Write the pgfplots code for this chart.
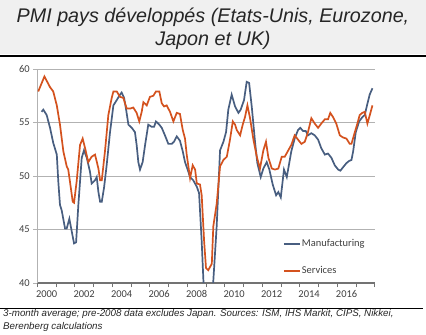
\documentclass[border=0pt]{standalone}
\usepackage{pgfplots}
\pgfplotsset{compat=1.18}
\usepackage{fontspec}
\setmainfont{Liberation Sans}
\newfontfamily\tickfont{Carlito}
\definecolor{mfg}{RGB}{72,94,128}
\definecolor{srv}{RGB}{212,82,30}
\definecolor{titlebg}{RGB}{240,240,240}
\definecolor{txt}{RGB}{64,64,64}
\begin{document}
\begin{tikzpicture}[x=1bp,y=1bp]
\useasboundingbox (0,0) rectangle (426,335);
\fill[white] (0,0) rectangle (426,335);
\fill[titlebg] (0,281) rectangle (426,335);
\node[font=\fontsize{19.8}{23}\selectfont\itshape, align=center, text=black!85] at (213,306.5) {PMI pays développés (Etats-Unis, Eurozone,\\Japon et UK)};
\draw[black, line width=2bp] (0,279.3) -- (426,279.3);
\begin{axis}[
  at={(37.3bp,52bp)}, anchor=south west,
  scale only axis, width=337.4bp, height=214bp,
  xmin=2000, xmax=2018, ymin=40, ymax=60,
  ytick={40,45,50,55,60},
  xtick={2000.5,2002.5,2004.5,2006.5,2008.5,2010.5,2012.5,2014.5,2016.5},
  xticklabels={2000,2002,2004,2006,2008,2010,2012,2014,2016},
  minor xtick={2000,2001,...,2018},
  /pgf/number format/assume math mode=true,
  axis x line*=bottom, axis y line*=left,
  x axis line style={draw=black!55, line width=1.4bp},
  y axis line style={draw=black!30, line width=0.8bp},
  ymajorgrids, grid style={draw=black!30, line width=0.8bp},
  tick align=outside,
  xtick style={draw=none},
  minor x tick style={draw=black!55, line width=0.8bp},
  minor tick length=4bp,
  ytick style={draw=black!30, line width=0.8bp},
  major tick length=4bp,
  tick label style={font=\tickfont\fontsize{10.5}{12}\selectfont, text=txt},
  legend style={at={(0.728,0.208)}, anchor=north west, draw=none, fill=none,
    font=\tickfont\fontsize{10.5}{12}\selectfont, text=txt, row sep=16bp, inner sep=0pt,
    nodes={inner sep=1bp}},
  legend cell align=left,
  legend image code/.code={\draw[#1] (0bp,0bp) -- (16bp,0bp);},
]
\addplot[mfg, line width=1.7bp] coordinates {
(2000.23,56.0)(2000.32,56.2)(2000.50,55.7)(2000.68,54.5)(2000.85,53.1)(2001.04,52.0)
(2001.12,49.5)(2001.21,47.3)(2001.30,46.8)(2001.48,45.1)(2001.57,45.1)(2001.71,46.0)
(2001.84,44.8)(2001.96,43.7)(2002.07,43.8)(2002.19,47.3)(2002.37,51.7)(2002.49,52.4)
(2002.64,51.7)(2002.81,50.4)(2002.90,49.3)(2003.08,49.6)(2003.17,49.9)(2003.26,48.5)
(2003.35,47.6)(2003.44,47.6)(2003.56,48.9)(2003.70,51.0)(2003.88,54.1)(2004.06,56.6)
(2004.24,57.1)(2004.41,57.6)(2004.50,57.8)(2004.63,57.3)(2004.73,56.3)(2004.86,54.8)
(2005.04,54.5)(2005.21,54.1)(2005.30,52.9)(2005.39,51.3)(2005.48,50.6)(2005.62,51.3)
(2005.75,52.9)(2005.92,54.8)(2006.10,54.6)(2006.23,54.6)(2006.33,55.1)(2006.51,54.8)
(2006.64,54.5)(2006.81,53.8)(2006.99,53.0)(2007.17,53.0)(2007.29,53.2)(2007.44,53.7)
(2007.61,53.3)(2007.76,52.3)(2007.88,51.3)(2008.00,50.7)(2008.15,49.9)(2008.32,49.6)
(2008.51,49.0)(2008.63,48.4)(2008.77,43.9)(2008.86,40.3)(2008.95,37.5)(2009.11,36.5)
(2009.27,37.5)(2009.39,40.2)(2009.57,45.3)(2009.75,52.4)(2009.93,53.2)(2010.07,54.1)
(2010.19,56.2)(2010.37,57.6)(2010.55,56.5)(2010.73,55.9)(2010.85,56.2)(2011.03,57.1)
(2011.17,58.8)(2011.30,58.7)(2011.44,56.5)(2011.62,53.1)(2011.74,51.2)(2011.92,49.9)
(2012.06,50.7)(2012.24,51.3)(2012.38,50.6)(2012.56,49.2)(2012.74,48.2)(2012.86,48.5)
(2012.99,48.0)(2013.16,50.6)(2013.31,49.9)(2013.55,52.3)(2013.73,53.5)(2013.91,54.3)
(2014.03,54.5)(2014.18,54.2)(2014.32,54.2)(2014.44,53.8)(2014.62,54.0)(2014.80,53.8)
(2014.98,53.4)(2015.15,52.6)(2015.34,52.0)(2015.51,52.1)(2015.69,51.7)(2015.87,51.0)
(2016.05,50.6)(2016.17,50.5)(2016.35,50.9)(2016.49,51.2)(2016.63,51.4)(2016.76,51.5)
(2016.85,52.3)(2016.99,54.1)(2017.17,55.1)(2017.34,55.5)(2017.47,55.7)(2017.59,56.6)
(2017.73,57.6)(2017.88,58.2)
};
\addlegendentry{Manufacturing}
\addplot[srv, line width=1.7bp] coordinates {
(2000.05,57.9)(2000.38,59.3)(2000.68,58.3)(2000.85,57.9)(2001.04,56.6)(2001.21,54.8)
(2001.39,52.3)(2001.57,50.9)(2001.65,50.6)(2001.74,49.5)(2001.89,47.6)(2001.96,47.5)
(2002.10,49.5)(2002.28,52.9)(2002.42,53.5)(2002.55,52.6)(2002.72,51.3)(2002.90,51.8)
(2003.08,52.0)(2003.26,50.7)(2003.35,49.6)(2003.44,49.6)(2003.61,52.3)(2003.79,55.7)
(2003.97,57.3)(2004.06,57.9)(2004.24,57.9)(2004.41,57.4)(2004.59,57.3)(2004.77,56.3)
(2004.95,56.3)(2005.12,56.4)(2005.30,55.9)(2005.44,55.1)(2005.57,56.0)(2005.66,56.9)
(2005.84,56.6)(2006.01,57.4)(2006.19,57.5)(2006.33,57.9)(2006.51,57.9)(2006.64,56.8)
(2006.76,56.5)(2006.90,56.6)(2007.08,56.0)(2007.26,55.1)(2007.44,55.9)(2007.61,55.8)
(2007.76,54.3)(2007.88,53.5)(2007.97,52.0)(2008.15,49.8)(2008.29,51.0)(2008.42,50.6)
(2008.51,49.3)(2008.68,49.2)(2008.77,48.2)(2008.90,43.9)(2009.00,41.4)(2009.12,41.2)
(2009.31,41.8)(2009.39,45.3)(2009.57,47.4)(2009.75,50.9)(2009.93,51.5)(2010.11,51.8)
(2010.28,53.4)(2010.43,55.1)(2010.55,54.8)(2010.64,54.3)(2010.82,53.8)(2010.96,54.8)
(2011.08,55.5)(2011.21,56.6)(2011.35,55.4)(2011.53,53.4)(2011.71,51.8)(2011.88,50.7)
(2012.06,52.4)(2012.20,53.2)(2012.33,51.7)(2012.51,50.7)(2012.68,50.6)(2012.86,50.7)
(2013.04,51.8)(2013.20,51.8)(2013.55,52.9)(2013.73,53.8)(2013.91,53.4)(2014.09,53.0)
(2014.27,53.2)(2014.44,54.1)(2014.62,55.4)(2014.80,54.9)(2014.98,54.5)(2015.15,54.9)
(2015.34,55.3)(2015.51,55.3)(2015.63,55.9)(2015.78,55.5)(2015.95,54.9)(2016.14,53.8)
(2016.31,53.6)(2016.49,53.5)(2016.67,53.0)(2016.76,53.0)(2016.94,54.1)(2017.06,54.8)
(2017.20,55.7)(2017.34,55.9)(2017.47,56.0)(2017.61,54.9)(2017.74,55.7)(2017.88,56.6)
};
\addlegendentry{Services}
\end{axis}
\draw[black, line width=1bp] (0,26) -- (423,26);
\node[anchor=west, align=left, font=\fontsize{9.8}{12.5}\selectfont\itshape, text=black!85, inner sep=0pt] at (3,14.5) {3-month average; pre-2008 data excludes Japan. Sources: ISM, IHS Markit, CIPS, Nikkei,\\Berenberg calculations};
\end{tikzpicture}
\end{document}
